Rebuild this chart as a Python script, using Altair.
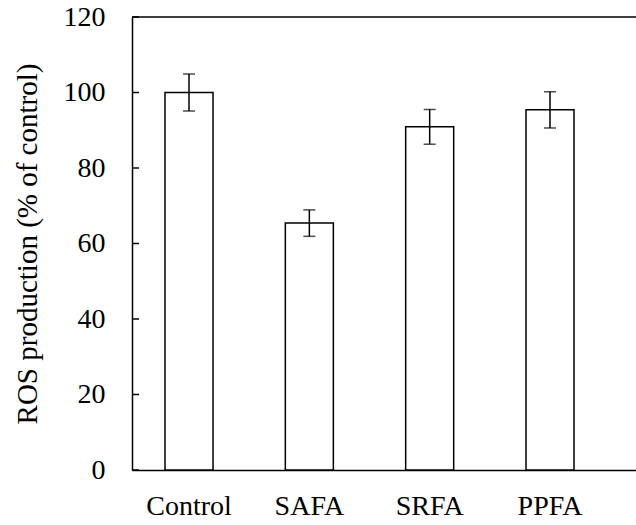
import altair as alt
import pandas as pd

groups = ["Control", "SAFA", "SRFA", "PPFA"]
means = [100, 65.4, 90.9, 95.4]
errors = [4.9, 3.5, 4.6, 4.8]
y_ticks = [0, 20, 40, 60, 80, 100, 120]

df = pd.DataFrame({"group": groups, "mean": means, "err": errors})
ticks_df = pd.DataFrame({"v": y_ticks})

FONT = "Liberation Serif"
W, H = 504, 453

xscale = alt.Scale(domain=groups, paddingInner=0.601, paddingOuter=0.3947, align=0.3475, round=False)
yscale = alt.Scale(domain=[0, 120], nice=False, zero=True)

base = alt.Chart(df)

bars = base.mark_bar(fill="white", stroke="black", strokeWidth=1.5).encode(
    x=alt.X("group:N", scale=xscale, sort=groups,
            axis=alt.Axis(title=None, labelAngle=0, ticks=False, domain=True,
                          domainColor="black", domainWidth=1.5, labelFont=FONT,
                          labelFontSize=28, labelColor="black", labelPadding=22, grid=False)),
    y=alt.Y("mean:Q", scale=yscale,
            axis=alt.Axis(title="ROS production (% of control)", values=y_ticks, ticks=False,
                          domain=True, domainColor="black", domainWidth=1.5, labelFont=FONT,
                          labelFontSize=28, labelColor="black", labelPadding=27,
                          titleFont=FONT, titleFontSize=29, titleFontWeight="normal",
                          titleColor="black", titlePadding=21, grid=False)),
)

err_base = base.transform_calculate(lo="datum.mean - datum.err", hi="datum.mean + datum.err")

err_rule = err_base.mark_rule(color="black", strokeWidth=1.5).encode(
    x=alt.X("group:N", scale=xscale, sort=groups),
    y=alt.Y("lo:Q", scale=yscale),
    y2="hi:Q",
)
cap_lo = err_base.mark_tick(color="black", thickness=1.5, size=12).encode(
    x=alt.X("group:N", scale=xscale, sort=groups),
    y=alt.Y("lo:Q", scale=yscale),
)
cap_hi = err_base.mark_tick(color="black", thickness=1.5, size=12).encode(
    x=alt.X("group:N", scale=xscale, sort=groups),
    y=alt.Y("hi:Q", scale=yscale),
)

inner_ticks = alt.Chart(ticks_df).mark_rule(color="black", strokeWidth=1.5).encode(
    y=alt.Y("v:Q", scale=yscale),
    x=alt.value(0),
    x2=alt.value(7),
)

top_border = alt.Chart(pd.DataFrame({"v": [120]})).mark_rule(color="black", strokeWidth=1.5).encode(
    y=alt.Y("v:Q", scale=yscale),
    x=alt.value(0),
    x2=alt.value(W),
)

chart = alt.layer(bars, err_rule, cap_lo, cap_hi, inner_ticks, top_border).properties(
    width=W, height=H,
    autosize=alt.AutoSizeParams(type="none"),
    padding={"left": 132, "top": 17, "right": 0, "bottom": 55},
    background="white",
).configure_view(stroke=None)

chart.save("out.html", embed_options={"renderer": "svg", "actions": False})
